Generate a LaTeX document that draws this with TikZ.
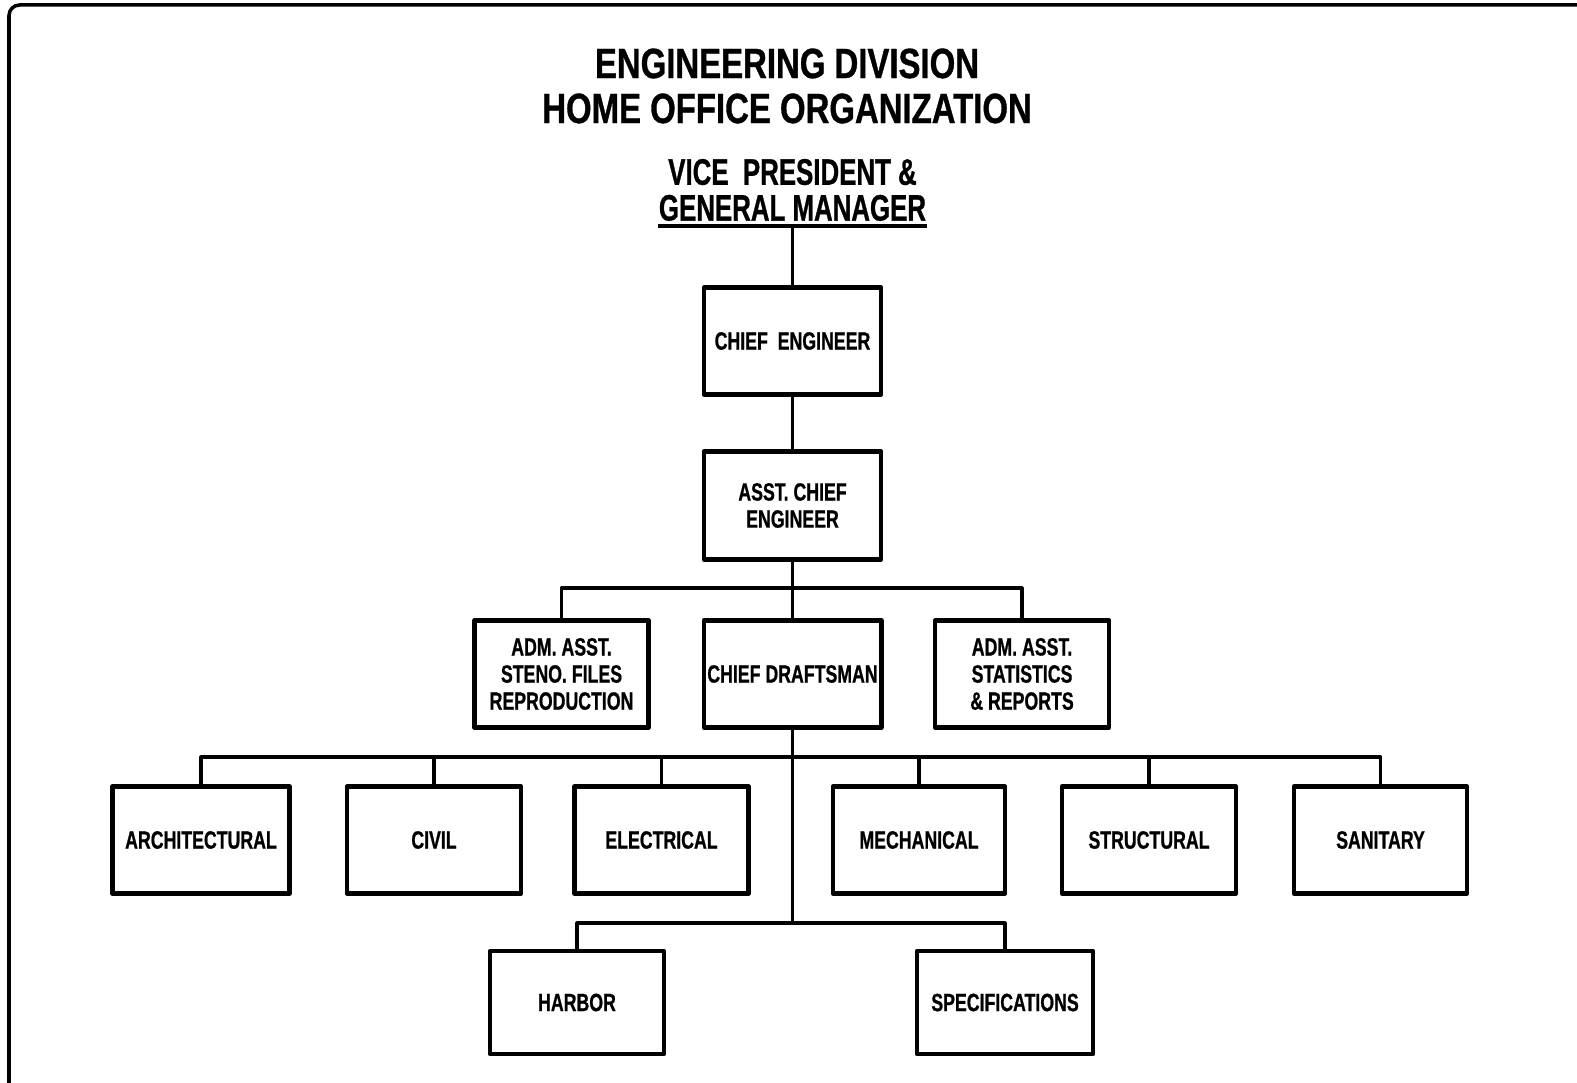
\documentclass[tikz,border=0pt]{standalone}
\usepackage{fontspec}
\usepackage{tikz}
\newfontfamily\headfont{Liberation Sans Bold}[FakeStretch=0.78, FakeBold=0.8]
\newfontfamily\boxfont{Liberation Sans Bold}[FakeStretch=0.71, FakeBold=0.8]

\begin{document}
\begin{tikzpicture}[x=0.01cm, y=-0.01cm, line join=round,
  box/.style={draw, line width=1.3pt, minimum width=1.74cm, minimum height=1.07cm,
    inner sep=1pt, align=center, font=\boxfont\fontsize{7.1}{7.7}\selectfont},
  link/.style={line width=0.9pt},
  heading/.style={align=center, inner sep=0pt, font=\headfont\fontsize{12}{12.8}\selectfont},
  boss/.style={align=center, inner xsep=0pt, inner ysep=1.2pt, font=\headfont\fontsize{10.5}{10.2}\selectfont}]
\useasboundingbox (0,0) rectangle (1577,1083);

% sheet edge
\draw[line width=1pt, rounded corners=3pt] (9,1083) -- (9,5) -- (1577,5);

% headings
\node[heading] (head) at (787,86) {ENGINEERING DIVISION\\HOME OFFICE ORGANIZATION};
\node[boss, font=\headfont\fontsize{10.5}{10.2}\selectfont\addfontfeature{FakeStretch=0.7}] (vp) at (792.5,190) {VICE\ \ PRESIDENT \&\\GENERAL MANAGER};
\draw[line width=1.2pt] (vp.south west) -- (vp.south east);

% upper chain
\node[box, minimum width=1.77cm] (ce) at (792.5,341) {CHIEF\ \ ENGINEER};
\node[box, minimum width=1.77cm, minimum height=1.08cm] (ace) at (792.5,505.5) {ASST. CHIEF\\ENGINEER};

% staff row
\node[box] (adm1) at (561.5,674) {ADM. ASST.\\STENO. FILES\\REPRODUCTION};
\node[box, minimum width=1.77cm] (cd) at (792.5,674) {CHIEF DRAFTSMAN};
\node[box] (adm2) at (1022,674) {ADM. ASST.\\STATISTICS\\\& REPORTS};

% sections
\node[box, minimum width=1.77cm] (arch) at (201,840) {ARCHITECTURAL};
\node[box] (civil) at (434,840) {CIVIL};
\node[box] (elec) at (661.5,840) {ELECTRICAL};
\node[box, minimum width=1.72cm] (mech) at (919,840) {MECHANICAL};
\node[box] (struct) at (1149,840) {STRUCTURAL};
\node[box, minimum width=1.73cm] (san) at (1380.5,840) {SANITARY};
\node[box, minimum height=1.03cm] (harbor) at (577,1002.5) {HARBOR};
\node[box, minimum width=1.76cm, minimum height=1.03cm] (spec) at (1005,1002.5) {SPECIFICATIONS};

% connectors
\coordinate (b1) at (792.5,588);
\coordinate (b2) at (792.5,757);
\coordinate (b3) at (792.5,923);
\draw[link] (vp.south) -- (ce.north);
\draw[link] (ce) -- (ace);
\draw[link] (ace) -- (cd);
\draw[link] (adm1.north) |- (b1) -| (adm2.north);
\draw[link] (cd.south) -- (b3);
\foreach \n in {arch,civil,elec,mech,struct,san}
  \draw[link] (b2) -| (\n.north);
\draw[link] (harbor.north) |- (b3) -| (spec.north);

\end{tikzpicture}
\end{document}
